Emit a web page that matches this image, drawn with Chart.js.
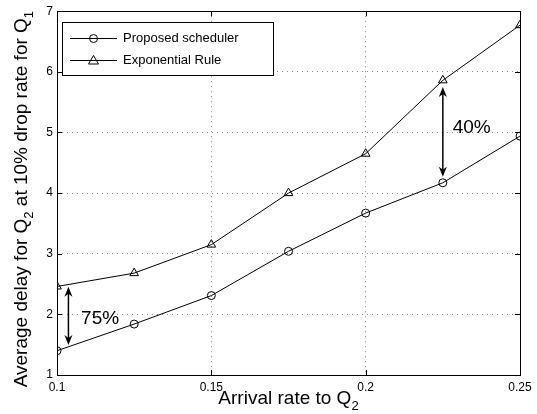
<!DOCTYPE html>
<html><head><meta charset="utf-8">
<script src="https://cdn.jsdelivr.net/npm/chart.js@4/dist/chart.umd.min.js"></script>
<style>html,body{margin:0;padding:0;background:#fff}canvas{display:block}</style>
</head><body>
<canvas id="c" width="537" height="414"></canvas>
<script>
const arrivalRates = [0.1, 0.125, 0.15, 0.175, 0.2, 0.225, 0.25];
const proposedDelay = [1.40, 1.84, 2.31, 3.04, 3.67, 4.17, 4.94];
const expRuleDelay = [2.46, 2.68, 3.15, 4.00, 4.65, 5.86, 6.77];
const seriesNames = ['Proposed scheduler', 'Exponential Rule'];
const xTicks = [0.1, 0.15, 0.2, 0.25];
const yTicks = [1, 2, 3, 4, 5, 6, 7];
const gapArrows = [
  {x: 0.1037, from: 2.455, to: 1.494, label: '75%', lx: 0.1078, ly: 1.92},
  {x: 0.225, from: 5.75, to: 4.27, label: '40%', lx: 0.2282, ly: 5.07}
];
const xTitle = [{t: 'Arrival rate to Q'}, {t: '2', sub: true}];
const yTitle = [{t: 'Average delay for Q'}, {t: '2', sub: true}, {t: ' at 10% drop rate for Q'}, {t: '1', sub: true}];

const FONT = '"Liberation Sans", Arial, Helvetica, sans-serif';

function richWidth(ctx, parts, size, subSize) {
  let w = 0;
  for (const p of parts) {
    ctx.font = (p.sub ? subSize : size) + 'px ' + FONT;
    w += ctx.measureText(p.t).width;
  }
  return w;
}
function drawRich(ctx, parts, x, y, size, subSize) {
  let cx = x;
  for (const p of parts) {
    ctx.font = (p.sub ? subSize : size) + 'px ' + FONT;
    ctx.fillText(p.t, cx, p.sub ? y + 6 : y);
    cx += ctx.measureText(p.t).width;
  }
}
function arrowHead(ctx, tx, ty, dir) {
  const L = 10, W = 4, N = 7;
  ctx.beginPath();
  ctx.moveTo(tx, ty);
  ctx.lineTo(tx - W, ty - dir * L);
  ctx.lineTo(tx, ty - dir * N);
  ctx.lineTo(tx + W, ty - dir * L);
  ctx.closePath();
  ctx.fill();
}

const decor = {
  id: 'decor',
  afterDraw(chart) {
    const ctx = chart.ctx;
    const a = chart.chartArea;
    const xs = chart.scales.x, ys = chart.scales.y;
    ctx.save();
    ctx.strokeStyle = '#000';
    ctx.fillStyle = '#000';
    ctx.lineWidth = 1;
    ctx.strokeRect(Math.round(a.left) + 0.5, Math.round(a.top) + 0.5,
      Math.round(a.right - a.left), Math.round(a.bottom - a.top));
    const tl = 5;
    ctx.beginPath();
    for (const v of xTicks) {
      const px = Math.round(xs.getPixelForValue(v)) + 0.5;
      ctx.moveTo(px, a.bottom); ctx.lineTo(px, a.bottom - tl);
      ctx.moveTo(px, a.top); ctx.lineTo(px, a.top + tl);
    }
    for (const v of yTicks) {
      const py = Math.round(ys.getPixelForValue(v)) + 0.5;
      ctx.moveTo(a.left, py); ctx.lineTo(a.left + tl, py);
      ctx.moveTo(a.right, py); ctx.lineTo(a.right - tl, py);
    }
    ctx.stroke();
    for (const g of gapArrows) {
      const px = xs.getPixelForValue(g.x);
      const y1 = ys.getPixelForValue(g.from), y2 = ys.getPixelForValue(g.to);
      ctx.lineWidth = 1.5;
      ctx.beginPath();
      ctx.moveTo(px, y1 + 6); ctx.lineTo(px, y2 - 6);
      ctx.stroke();
      arrowHead(ctx, px, y1, -1);
      arrowHead(ctx, px, y2, 1);
      ctx.font = '19px ' + FONT;
      ctx.textAlign = 'left';
      ctx.textBaseline = 'middle';
      ctx.fillText(g.label, xs.getPixelForValue(g.lx), ys.getPixelForValue(g.ly));
    }
    ctx.lineWidth = 1;
    const lx = 62.5, ly = 22.5, lw = 211, lh = 53;
    ctx.fillStyle = '#fff';
    ctx.fillRect(lx, ly, lw, lh);
    ctx.strokeStyle = '#000';
    ctx.strokeRect(lx, ly, lw, lh);
    ctx.fillStyle = '#000';
    const rows = [38.5, 60.5];
    chart.data.datasets.forEach((ds, i) => {
      const ry = rows[i];
      ctx.beginPath();
      ctx.moveTo(70, ry); ctx.lineTo(117, ry);
      ctx.stroke();
      const mx = 93.5;
      ctx.beginPath();
      if (ds.pointStyle === 'circle') {
        ctx.arc(mx, ry, 4, 0, Math.PI * 2);
      } else {
        ctx.moveTo(mx, ry - 5); ctx.lineTo(mx + 5, ry + 3.5); ctx.lineTo(mx - 5, ry + 3.5); ctx.closePath();
      }
      ctx.stroke();
      ctx.font = '13px ' + FONT;
      ctx.textAlign = 'left';
      ctx.textBaseline = 'middle';
      ctx.fillText(ds.label, 123, ry);
    });
    ctx.textAlign = 'left';
    ctx.textBaseline = 'alphabetic';
    const xw = richWidth(ctx, xTitle, 19, 13);
    drawRich(ctx, xTitle, (a.left + a.right) / 2 - xw / 2, 404, 19, 13);
    const yw = richWidth(ctx, yTitle, 19, 13);
    ctx.translate(27, (a.top + a.bottom) / 2 + 6);
    ctx.rotate(-Math.PI / 2);
    drawRich(ctx, yTitle, -yw / 2, 0, 19, 13);
    ctx.restore();
  }
};

const toPts = (ys) => arrivalRates.map((x, i) => ({x, y: ys[i]}));

new Chart(document.getElementById('c'), {
  type: 'line',
  data: {
    datasets: [
      {label: seriesNames[0], data: toPts(proposedDelay), pointStyle: 'circle', pointRadius: 4},
      {label: seriesNames[1], data: toPts(expRuleDelay), pointStyle: 'triangle', pointRadius: 5}
    ].map(d => Object.assign(d, {
      borderColor: '#000', borderWidth: 1, tension: 0, fill: false,
      pointBorderColor: '#000', pointBackgroundColor: 'rgba(0,0,0,0)', pointBorderWidth: 1,
      pointHoverRadius: d.pointRadius
    }))
  },
  options: {
    responsive: false,
    animation: false,
    devicePixelRatio: 1,
    events: [],
    layout: {padding: {left: 0, top: 11, right: 17, bottom: 0}},
    plugins: {legend: {display: false}, tooltip: {enabled: false}},
    scales: {
      x: {
        type: 'linear', min: 0.1, max: 0.25,
        afterBuildTicks: (s) => { s.ticks = xTicks.map(v => ({value: v})); },
        afterFit: (s) => { s.height = 39; },
        ticks: {color: '#000', font: {family: FONT, size: 12}, padding: 5, maxRotation: 0, autoSkip: false,
          callback: (v) => String(+v.toFixed(3))},
        grid: {color: '#888', lineWidth: 1, drawTicks: false},
        border: {display: false, dash: [1, 4]}
      },
      y: {
        type: 'linear', min: 1, max: 7,
        afterBuildTicks: (s) => { s.ticks = yTicks.map(v => ({value: v})); },
        afterFit: (s) => { s.width = 57; },
        ticks: {color: '#000', font: {family: FONT, size: 12}, padding: 4,
          callback: (v) => String(v)},
        grid: {color: '#888', lineWidth: 1, drawTicks: false},
        border: {display: false, dash: [1, 4]}
      }
    }
  },
  plugins: [decor]
});
</script>
</body></html>
